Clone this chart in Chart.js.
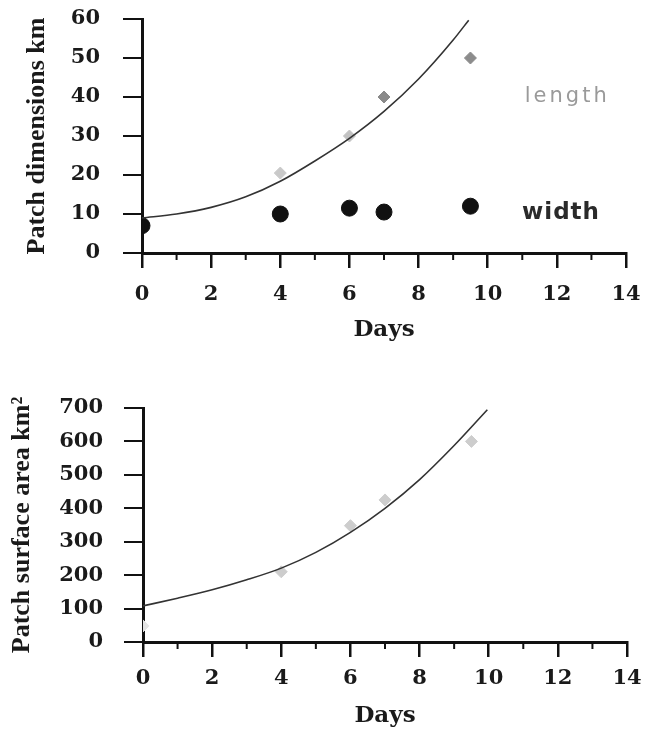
<!DOCTYPE html>
<html>
<head>
<meta charset="utf-8">
<script src="https://cdn.jsdelivr.net/npm/chart.js@4.4.1/dist/chart.umd.min.js"></script>
<style>
  body { margin: 0; background: #fff; }
  canvas { position: absolute; left: 0; }
  #topChart { top: 0; }
  #bottomChart { top: 360px; }
</style>
</head>
<body>
<canvas id="topChart" width="646" height="360"></canvas>
<canvas id="bottomChart" width="646" height="375"></canvas>
<script>
// top chart: patch length / width
const lengthDays = [4, 6, 7, 9.5];
const lengthKm = [20.5, 30, 40, 50];
const lengthColors = ['#c9c9c9', '#c2c2c2', '#8a8a8a', '#8c8c8c'];

const widthDays = [0, 4, 6, 7, 9.5];
const widthKm = [7, 10, 11.5, 10.5, 12];

const lengthFitDays = [0, 1, 2, 3, 4, 5, 6, 7, 8, 9, 9.45];
const lengthFitKm = [9.0, 10.0, 11.7, 14.4, 18.4, 23.6, 29.4, 36.3, 44.6, 54.6, 59.7];

// bottom chart: surface area
const areaDays = [0, 4, 6, 7, 9.5];
const areaKm2 = [48, 210, 348, 425, 600];
const areaColors = ['#e4e4e4', '#cdcdcd', '#cdcdcd', '#cdcdcd', '#cdcdcd'];

const areaFitDays = [0, 1, 2, 3, 4, 5, 6, 7, 8, 9, 9.96];
const areaFitKm2 = [108, 131, 156, 186, 221, 268, 328, 400, 486, 588, 695];

const minorDays = [1, 3, 5, 7, 9, 11, 13];

const tickFont = { family: 'DejaVu Serif', weight: 'bold', size: 21 };

function pts(xs, ys) {
  return xs.map((x, i) => ({ x: x, y: ys[i] }));
}

// short ticks on odd days
const minorTicks = {
  id: 'minorTicks',
  afterDraw(chart) {
    const sx = chart.scales.x;
    const ctx = chart.ctx;
    ctx.save();
    ctx.strokeStyle = '#111';
    ctx.lineWidth = 2;
    minorDays.forEach(v => {
      const px = sx.getPixelForValue(v);
      ctx.beginPath();
      ctx.moveTo(px, sx.top);
      ctx.lineTo(px, sx.top + 7);
      ctx.stroke();
    });
    ctx.restore();
  }
};

// "length" / "width" labels
const seriesLabels = {
  id: 'seriesLabels',
  afterDatasetsDraw(chart) {
    const { ctx, scales } = chart;
    ctx.save();
    ctx.textAlign = 'center';
    ctx.textBaseline = 'middle';
    ctx.letterSpacing = '3px';
    ctx.fillStyle = '#9a9a9a';
    ctx.font = '21px "DejaVu Sans"';
    ctx.fillText('length', scales.x.getPixelForValue(12.3), scales.y.getPixelForValue(40));
    ctx.letterSpacing = '1px';
    ctx.fillStyle = '#2a2a2a';
    ctx.font = 'bold 23px "DejaVu Sans"';
    ctx.fillText('width', scales.x.getPixelForValue(12.12), scales.y.getPixelForValue(10.3));
    ctx.restore();
  }
};

function xAxis(height, labelPad, titlePad) {
  return {
    type: 'linear',
    min: 0,
    max: 14,
    afterFit: s => {
      s.height = height;
      s.paddingLeft = 0;
      s.paddingRight = 0;
    },
    border: { display: true, color: '#111', width: 3 },
    grid: { drawOnChartArea: false, color: '#111', lineWidth: 2.5, tickLength: 15 },
    ticks: { stepSize: 2, color: '#1a1a1a', font: tickFont, padding: labelPad, maxRotation: 0 },
    title: {
      display: true,
      text: 'Days',
      color: '#1a1a1a',
      font: { family: 'DejaVu Serif', weight: 'bold', size: 23 },
      padding: { top: 0, bottom: titlePad }
    }
  };
}

function yAxis(max, step, width, labelPad, title, titlePad) {
  return {
    type: 'linear',
    min: 0,
    max: max,
    afterFit: s => {
      s.width = width;
      s.paddingTop = 0;
      s.paddingBottom = 0;
    },
    border: { display: true, color: '#111', width: 3 },
    grid: { drawOnChartArea: false, color: '#111', lineWidth: 2, tickLength: 19 },
    ticks: { stepSize: step, color: '#1a1a1a', font: tickFont, padding: labelPad },
    title: {
      display: true,
      text: title,
      color: '#1a1a1a',
      font: { family: 'Liberation Serif', weight: 'bold', size: 26 },
      padding: { top: titlePad, bottom: 0 }
    }
  };
}

const baseOptions = {
  responsive: false,
  animation: false,
  devicePixelRatio: 1,
  plugins: { legend: { display: false }, tooltip: { enabled: false } }
};

new Chart(document.getElementById('topChart'), {
  type: 'scatter',
  data: {
    datasets: [
      {
        type: 'line',
        data: pts(lengthFitDays, lengthFitKm),
        borderColor: '#333',
        borderWidth: 1.6,
        pointRadius: 0,
        cubicInterpolationMode: 'monotone',
        fill: false
      },
      {
        data: pts(lengthDays, lengthKm),
        pointStyle: 'rectRot',
        pointRadius: 6,
        pointBackgroundColor: lengthColors,
        pointBorderColor: lengthColors,
        pointBorderWidth: 1
      },
      {
        data: pts(widthDays, widthKm),
        pointStyle: 'circle',
        pointRadius: 8,
        pointBackgroundColor: '#111',
        pointBorderColor: '#111',
        clip: 0
      }
    ]
  },
  options: Object.assign({}, baseOptions, {
    layout: { padding: { top: 19, right: 20, left: 0, bottom: 0 } },
    scales: {
      x: xAxis(107, 14, 16),
      y: yAxis(60, 10, 142, 23, 'Patch dimensions km', 22)
    }
  }),
  plugins: [minorTicks, seriesLabels]
});

new Chart(document.getElementById('bottomChart'), {
  type: 'scatter',
  data: {
    datasets: [
      {
        type: 'line',
        data: pts(areaFitDays, areaFitKm2),
        borderColor: '#333',
        borderWidth: 1.6,
        pointRadius: 0,
        cubicInterpolationMode: 'monotone',
        fill: false
      },
      {
        data: pts(areaDays, areaKm2),
        pointStyle: 'rectRot',
        pointRadius: 6,
        pointBackgroundColor: areaColors,
        pointBorderColor: areaColors,
        pointBorderWidth: 1
      }
    ]
  },
  options: Object.assign({}, baseOptions, {
    layout: { padding: { top: 48, right: 19, left: 0, bottom: 0 } },
    scales: {
      x: xAxis(93, 9, 5),
      y: yAxis(700, 100, 143, 21, 'Patch surface area km²', 7)
    }
  }),
  plugins: [minorTicks]
});
</script>
</body>
</html>
